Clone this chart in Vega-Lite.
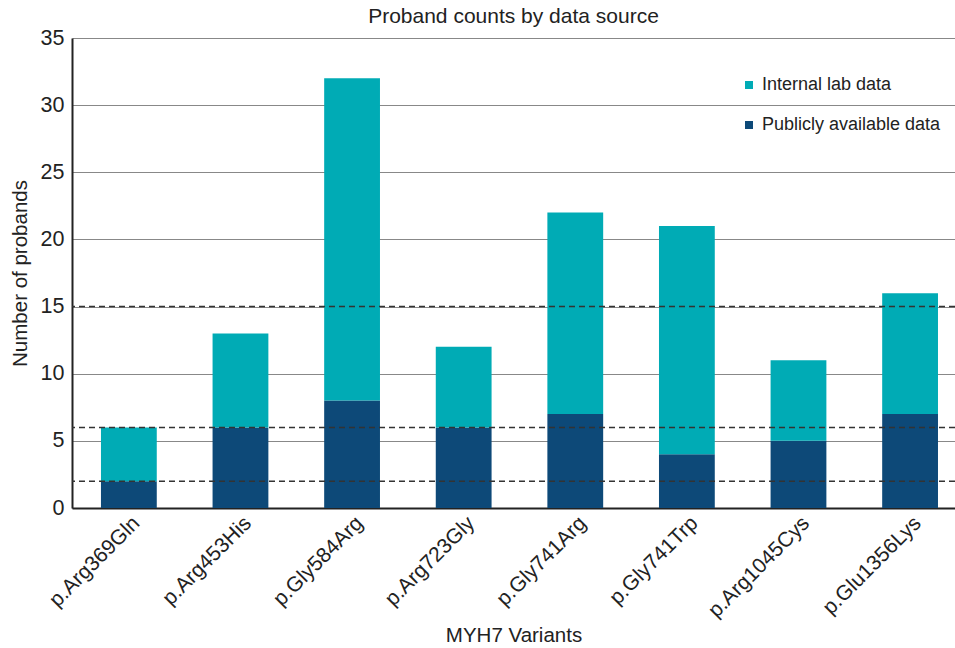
{
  "$schema": "https://vega.github.io/schema/vega-lite/v6.json",
  "width": 883,
  "height": 470,
  "autosize": {"type": "none"},
  "padding": {"left": 72, "top": 38, "right": 0, "bottom": 140},
  "background": "white",
  "title": {"text": "Proband counts by data source", "fontSize": 21, "fontWeight": "normal", "font": "Liberation Sans", "color": "#222", "offset": 0},
  "config": {"view": {"stroke": null}, "font": "Liberation Sans"},
  "layer": [
    {
      "data": {"values": [
        {"variant": "p.Arg369Gln", "source": "Publicly available data", "count": 2},
        {"variant": "p.Arg369Gln", "source": "Internal lab data", "count": 4},
        {"variant": "p.Arg453His", "source": "Publicly available data", "count": 6},
        {"variant": "p.Arg453His", "source": "Internal lab data", "count": 7},
        {"variant": "p.Gly584Arg", "source": "Publicly available data", "count": 8},
        {"variant": "p.Gly584Arg", "source": "Internal lab data", "count": 24},
        {"variant": "p.Arg723Gly", "source": "Publicly available data", "count": 6},
        {"variant": "p.Arg723Gly", "source": "Internal lab data", "count": 6},
        {"variant": "p.Gly741Arg", "source": "Publicly available data", "count": 7},
        {"variant": "p.Gly741Arg", "source": "Internal lab data", "count": 15},
        {"variant": "p.Gly741Trp", "source": "Publicly available data", "count": 4},
        {"variant": "p.Gly741Trp", "source": "Internal lab data", "count": 17},
        {"variant": "p.Arg1045Cys", "source": "Publicly available data", "count": 5},
        {"variant": "p.Arg1045Cys", "source": "Internal lab data", "count": 6},
        {"variant": "p.Glu1356Lys", "source": "Publicly available data", "count": 7},
        {"variant": "p.Glu1356Lys", "source": "Internal lab data", "count": 9}
      ]},
      "mark": {"type": "bar"},
      "encoding": {
        "x": {
          "field": "variant", "type": "nominal", "sort": null,
          "scale": {"paddingInner": 0.5, "paddingOuter": 0.206, "align": 0.63},
          "axis": {
            "title": "MYH7 Variants", "labelAngle": -45, "labelFontSize": 21, "labelColor": "#222",
            "ticks": false, "domainColor": "#222", "domainWidth": 2, "labelPadding": 4,
            "titleFontSize": 20.5, "titleFontWeight": "normal", "titleColor": "#222", "titlePadding": 5
          }
        },
        "y": {
          "field": "count", "type": "quantitative", "stack": "zero",
          "scale": {"domain": [0, 35], "nice": false},
          "axis": {
            "values": [0, 5, 10, 15, 20, 25, 30, 35], "title": "Number of probands",
            "grid": true, "gridColor": "#888", "gridWidth": 1, "ticks": false,
            "domainColor": "#222", "domainWidth": 2, "labelFontSize": 21.5, "labelColor": "#222",
            "labelPadding": 8, "titleFontSize": 20.5, "titleFontWeight": "normal", "titleColor": "#222", "titlePadding": 10
          }
        },
        "color": {
          "field": "source", "type": "nominal",
          "scale": {"domain": ["Internal lab data", "Publicly available data"], "range": ["#00ABB5", "#0D4978"]},
          "legend": {
            "title": null, "orient": "none", "legendX": 668, "legendY": 38, "padding": 0,
            "symbolType": "square", "symbolSize": 64, "symbolStrokeWidth": 0, "labelOffset": 4,
            "labelFontSize": 18, "labelColor": "#222", "labelLimit": 400, "rowPadding": 22
          }
        },
        "order": {"field": "source", "sort": "descending"}
      }
    },
    {
      "data": {"values": [{"level": 2}, {"level": 6}, {"level": 15}]},
      "mark": {"type": "rule", "strokeDash": [6, 4], "color": "#333", "strokeWidth": 1.5},
      "encoding": {"y": {"field": "level", "type": "quantitative"}}
    }
  ]
}
